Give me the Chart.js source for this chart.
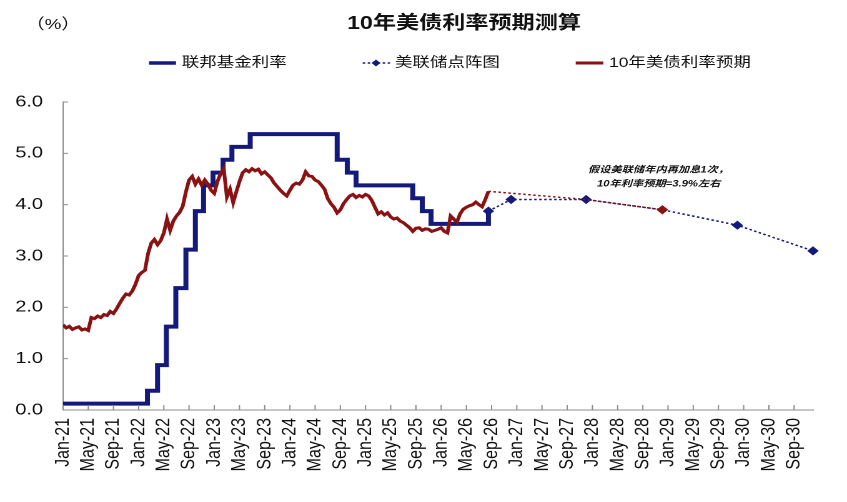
<!DOCTYPE html>
<html><head><meta charset="utf-8">
<script src="https://cdn.jsdelivr.net/npm/chart.js@4.4.1/dist/chart.umd.min.js"></script>
<style>
html,body{margin:0;padding:0;background:#fff;overflow:hidden;}
#stage{width:678px;height:502px;transform:scaleX(1.24926);transform-origin:0 0;}
</style></head><body>
<div id="stage"><canvas id="chart" width="678" height="502"></canvas></div>
<script>
// ---------- data (x = months after Jan-21) ----------
const xTickLabels = ['Jan-21','May-21','Sep-21','Jan-22','May-22','Sep-22','Jan-23','May-23','Sep-23',
  'Jan-24','May-24','Sep-24','Jan-25','May-25','Sep-25','Jan-26','May-26','Sep-26','Jan-27','May-27',
  'Sep-27','Jan-28','May-28','Sep-28','Jan-29','May-29','Sep-29','Jan-30','May-30','Sep-30'];
const yTickValues = [0,1,2,3,4,5,6];

const fedMonths = [0, 13.4, 15.0, 16.4, 17.9, 19.5, 21.0, 22.3, 23.8, 25.4, 26.8, 29.7, 43.5, 45.1, 46.5, 55.5, 57.0, 58.4, 67.5];
const fedRates  = [0.125, 0.375, 0.875, 1.625, 2.375, 3.125, 3.875, 4.375, 4.625, 4.875, 5.125, 5.375, 4.875, 4.625, 4.375, 4.125, 3.875, 3.625, 3.875];

const yieldStartMonth = 0;
const yieldStepMonth = 0.5;
const yieldValues = [
  1.66,1.60,1.63,1.57,1.60,1.62,1.56,1.58,1.55,1.80,
  1.78,1.83,1.80,1.86,1.84,1.92,1.88,1.97,2.08,2.18,
  2.26,2.24,2.32,2.45,2.62,2.68,2.72,3.05,3.25,3.32,
  3.22,3.30,3.45,3.72,3.50,3.68,3.78,3.85,3.97,4.25,
  4.48,4.55,4.40,4.50,4.38,4.48,4.40,4.28,4.22,4.45,
  4.60,4.70,4.15,4.30,4.04,4.25,4.45,4.62,4.68,4.64,
  4.70,4.66,4.69,4.60,4.64,4.58,4.52,4.42,4.35,4.28,
  4.22,4.17,4.28,4.38,4.42,4.40,4.48,4.64,4.56,4.55,
  4.48,4.45,4.38,4.30,4.12,4.02,3.95,3.84,3.90,4.02,
  4.10,4.17,4.20,4.14,4.18,4.15,4.20,4.17,4.08,3.95,
  3.82,3.86,3.80,3.84,3.76,3.72,3.74,3.68,3.65,3.60,
  3.55,3.48,3.54,3.55,3.50,3.53,3.52,3.48,3.50,3.52,
  3.55,3.48,3.45,3.78,3.72,3.66,3.82,3.91,3.95,3.98,
  4.00,4.05,4.00,3.96,4.10,4.26];

const dotMonths = [67.5, 71.1, 83.0, 95.1, 107.0, 119.0];
const dotRates  = [3.875, 4.1, 4.1, 3.9, 3.6, 3.1];

const fcMonths = [67.5, 83.0, 95.1];
const fcRates  = [4.26, 4.1, 3.9];

const titleText = '10年美债利率预期测算';
const unitText = '（%）';
const legendLabels = ['联邦基金利率', '美联储点阵图', '10年美债利率预期'];
const noteLines = ['假设美联储年内再加息1次，', '10年利率预期=3.9%左右'];

// ---------- style ----------
const SX = 847 / 678;
const NAVY = '#141a7c';
const RED = '#8a1212';
const AXIS = '#8c8c8c';
const TXT = '#111111';
const FONT = '"Liberation Sans", Arial, "Noto Sans CJK SC", sans-serif';
Chart.defaults.font.family = FONT;

const pts = (xs, ys) => xs.map((x, i) => ({x, y: ys[i]}));
const yieldPts = yieldValues.map((v, i) => ({x: yieldStartMonth + i * yieldStepMonth, y: v}));

const deco = {
  id: 'deco',
  afterDraw(chart) {
    const {ctx, chartArea: {left, bottom}} = chart;
    const xs = chart.scales.x, ys = chart.scales.y;
    ctx.save();
    ctx.strokeStyle = AXIS; ctx.lineWidth = 1;
    ys.ticks.forEach(t => { const y = ys.getPixelForValue(t.value); ctx.beginPath(); ctx.moveTo(left, y); ctx.lineTo(left + 4, y); ctx.stroke(); });
    xs.ticks.forEach(t => { const x = xs.getPixelForValue(t.value); ctx.beginPath(); ctx.moveTo(x, bottom); ctx.lineTo(x, bottom - 5); ctx.stroke(); });

    ctx.fillStyle = TXT; ctx.textBaseline = 'middle';
    ctx.font = 'bold 18.5px ' + FONT; ctx.textAlign = 'center';
    ctx.fillText(titleText, 464 / SX, 24);
    ctx.font = '15px ' + FONT;
    ctx.fillText(unitText, 53 / SX, 25);

    // legend
    const ly = 63;
    ctx.textAlign = 'left'; ctx.font = '14px ' + FONT;
    ctx.strokeStyle = NAVY; ctx.lineWidth = 3.5; ctx.setLineDash([]);
    ctx.beginPath(); ctx.moveTo(149 / SX, ly); ctx.lineTo(176 / SX, ly); ctx.stroke();
    ctx.fillText(legendLabels[0], 181.7 / SX, ly);

    ctx.lineWidth = 1.5; ctx.setLineDash([2, 2]);
    ctx.beginPath(); ctx.moveTo(362.7 / SX, ly); ctx.lineTo(390 / SX, ly); ctx.stroke();
    ctx.setLineDash([]);
    const dx = 376 / SX, r = 3.5;
    ctx.fillStyle = NAVY;
    ctx.beginPath(); ctx.moveTo(dx, ly - r); ctx.lineTo(dx + r, ly); ctx.lineTo(dx, ly + r); ctx.lineTo(dx - r, ly); ctx.closePath(); ctx.fill();
    ctx.fillStyle = TXT;
    ctx.fillText(legendLabels[1], 395 / SX, ly);

    ctx.strokeStyle = RED; ctx.lineWidth = 3;
    ctx.beginPath(); ctx.moveTo(575.7 / SX, ly); ctx.lineTo(603.3 / SX, ly); ctx.stroke();
    ctx.fillText(legendLabels[2], 609 / SX, ly);

    // annotation
    ctx.font = 'italic bold 9px ' + FONT;
    ctx.fillText(noteLines[0], 588 / SX, 170);
    ctx.fillText(noteLines[1], 597 / SX, 184);
    ctx.restore();
  }
};

new Chart(document.getElementById('chart'), {
  type: 'line',
  data: {
    datasets: [
      { label: '10年美债利率预期(测算)', data: pts(fcMonths, fcRates), borderColor: RED, borderWidth: 1.5,
        borderDash: [2, 2], pointStyle: 'rectRot', pointRadius: fcRates.map((v, i) => i === fcRates.length - 1 ? 4.6 : 0),
        pointBackgroundColor: RED, pointBorderColor: RED, pointBorderWidth: 0, order: 0, clip: false },
      { label: legendLabels[1], data: pts(dotMonths, dotRates), borderColor: NAVY, borderWidth: 1.5,
        borderDash: [2, 2], pointStyle: 'rectRot', pointRadius: 4.6,
        pointBackgroundColor: NAVY, pointBorderColor: NAVY, pointBorderWidth: 0, order: 1, clip: false },
      { label: legendLabels[2], data: yieldPts, borderColor: RED, borderWidth: 3, pointRadius: 0,
        tension: 0, order: 2, borderJoinStyle: 'miter' },
      { label: legendLabels[0], data: pts(fedMonths, fedRates), borderColor: NAVY, borderWidth: 4,
        pointRadius: 0, stepped: true, order: 3, borderJoinStyle: 'miter' }
    ]
  },
  options: {
    responsive: false, animation: false, devicePixelRatio: 2,
    layout: { padding: { top: 102, right: 678 - 813 / SX, bottom: 0, left: 0 } },
    plugins: { legend: { display: false }, title: { display: false }, tooltip: { enabled: false } },
    scales: {
      x: {
        type: 'linear', min: 0, max: 119,
        afterFit(s) { s.height = 92; },
        afterBuildTicks(s) { s.ticks = xTickLabels.map((_, i) => ({ value: i * 4 })); },
        ticks: { callback: (v) => xTickLabels[Math.round(v / 4)] || '', autoSkip: false, minRotation: 90, maxRotation: 90,
          padding: 8, font: { size: 16 }, color: TXT },
        grid: { display: true, drawOnChartArea: false, drawTicks: false },
        border: { display: true, color: AXIS, width: 1 }
      },
      y: {
        min: 0, max: 6,
        afterFit(s) { s.width = 63 / SX; },
        afterBuildTicks(s) { s.ticks = yTickValues.map(v => ({ value: v })); },
        ticks: { callback: (v) => Number(v).toFixed(1), padding: 16, font: { size: 16 }, color: TXT },
        grid: { display: true, drawOnChartArea: false, drawTicks: false },
        border: { display: true, color: AXIS, width: 1 }
      }
    }
  },
  plugins: [deco]
});
</script>
</body></html>
